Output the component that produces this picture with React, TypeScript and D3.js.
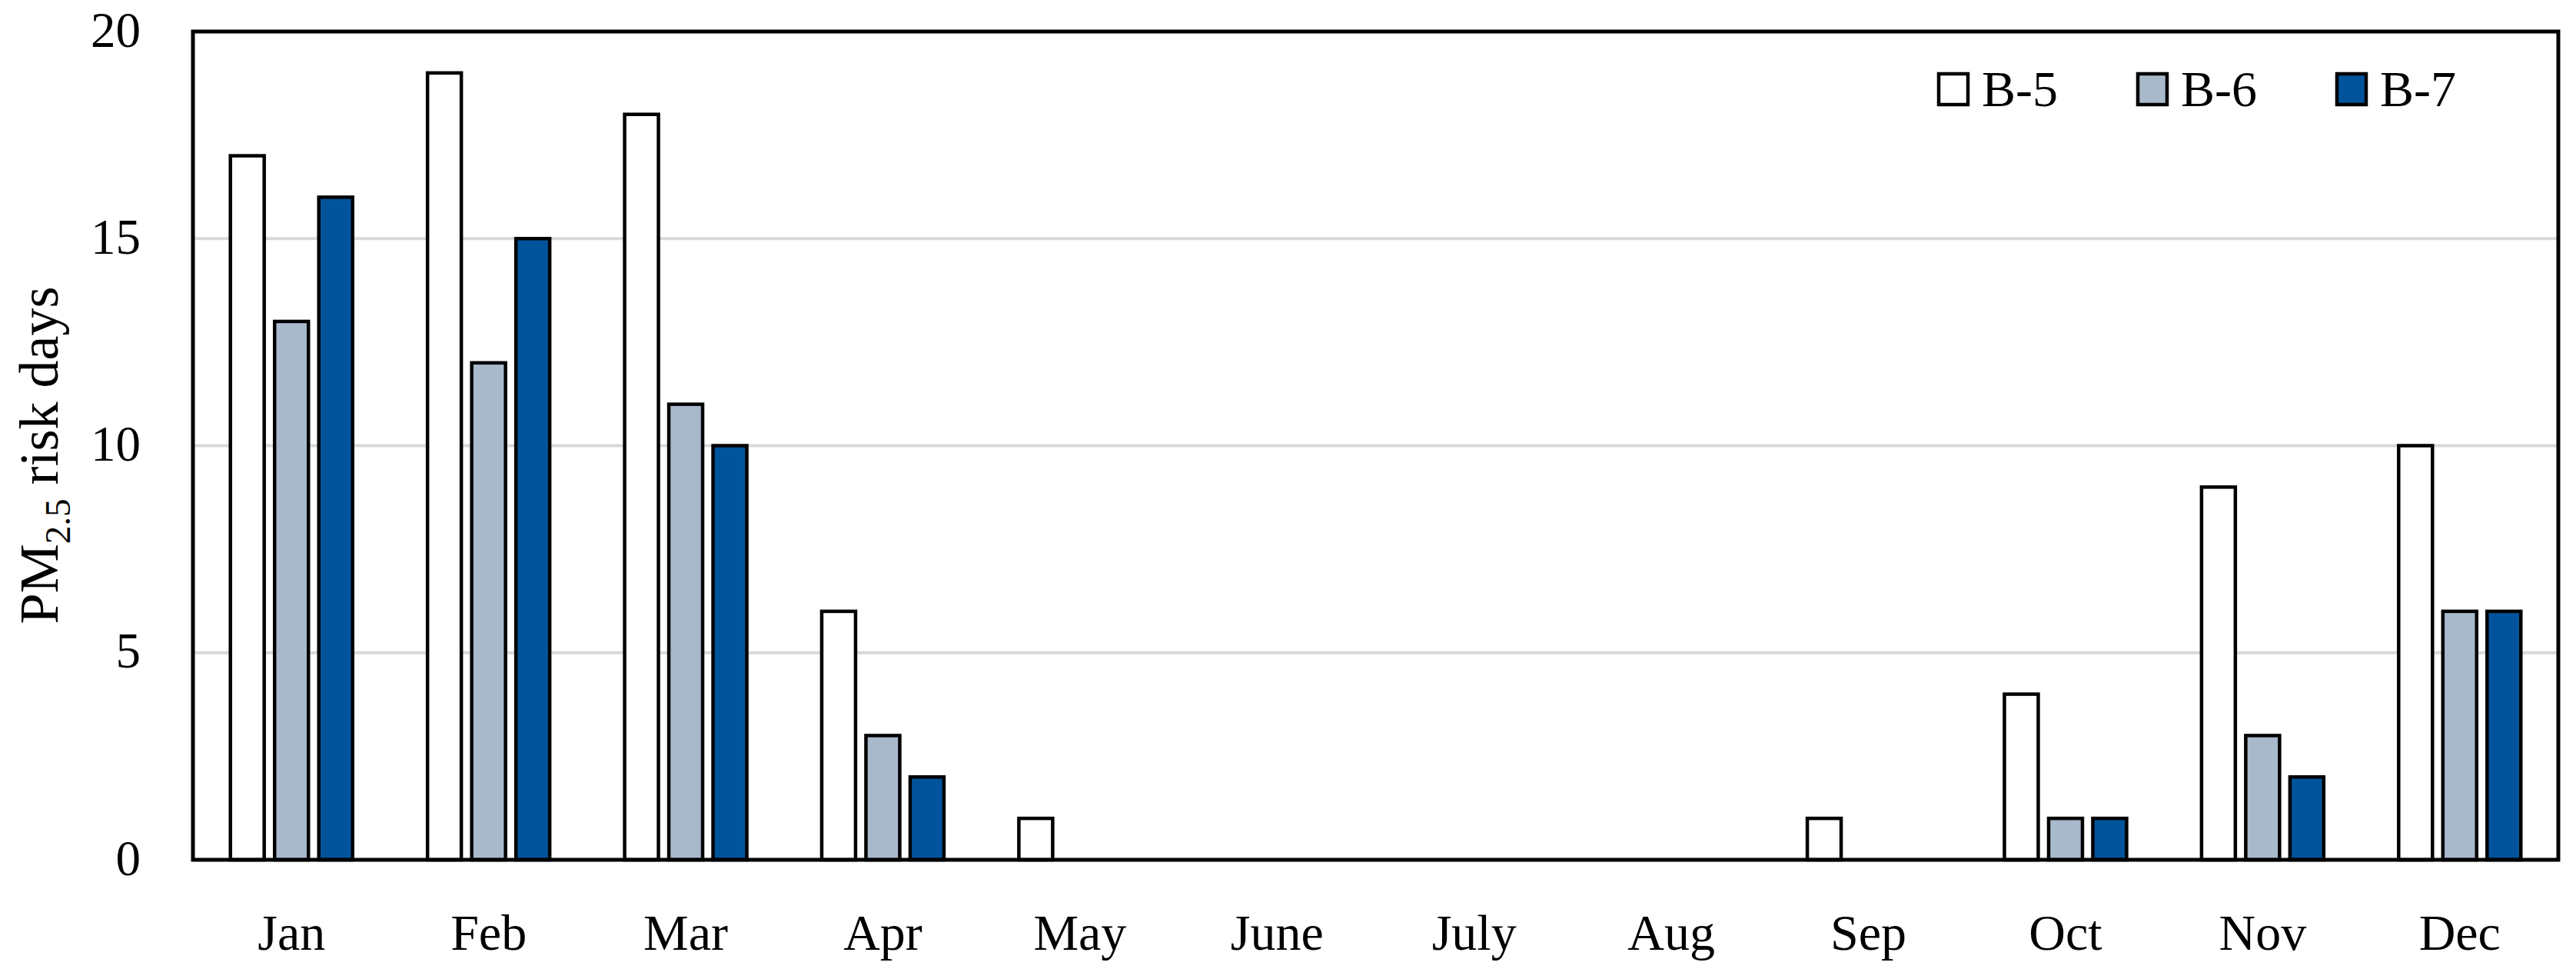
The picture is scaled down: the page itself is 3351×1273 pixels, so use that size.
import React from "react";
import * as d3 from "d3";

const months = ["Jan", "Feb", "Mar", "Apr", "May", "June", "July", "Aug", "Sep", "Oct", "Nov", "Dec"];
const seriesNames = ["B-5", "B-6", "B-7"];
const b5 = [17, 19, 18, 6, 1, 0, 0, 0, 1, 4, 9, 10];
const b6 = [13, 12, 11, 3, 0, 0, 0, 0, 0, 1, 3, 6];
const b7 = [16, 15, 10, 2, 0, 0, 0, 0, 0, 1, 2, 6];
const yTicks = [0, 5, 10, 15, 20];
const colors = ["#ffffff", "#a9b9cc", "#01549b"];

const W = 3351;
const H = 1273;
const M = { left: 251, right: 23, top: 41, bottom: 155 };
const FONT = "'Liberation Serif', 'DejaVu Serif', serif";

export default function App() {
  const values = [b5, b6, b7];
  const x = d3.scaleBand().domain(months).range([M.left, W - M.right]).paddingInner(0).paddingOuter(0);
  const band = x.bandwidth();
  const groupW = band * 0.62;
  const sub = d3.scaleBand().domain(seriesNames).range([0, groupW]).paddingInner(0.235).paddingOuter(0);
  const y = d3.scaleLinear().domain([0, 20]).range([H - M.bottom, M.top]);

  return (
    <svg width={W} height={H} style={{ position: "absolute", left: 0, top: 0, background: "#fff" }} fontFamily={FONT}>
      <rect x={0} y={0} width={W} height={H} fill="#fff" />
      {yTicks.filter((t) => t > 0 && t < 20).map((t) => (
        <line key={t} x1={M.left} x2={W - M.right} y1={y(t)} y2={y(t)} stroke="#d9d9d9" strokeWidth={4} />
      ))}
      {values.map((vals, si) =>
        vals.map((v, i) =>
          v > 0 ? (
            <rect
              key={`${si}-${i}`}
              x={(x(months[i]) as number) + (band - groupW) / 2 + (sub(seriesNames[si]) as number)}
              y={y(v)}
              width={sub.bandwidth()}
              height={y(0) - y(v)}
              fill={colors[si]}
              stroke="#000"
              strokeWidth={4.5}
            />
          ) : null
        )
      )}
      <rect x={M.left} y={M.top} width={W - M.right - M.left} height={H - M.bottom - M.top} fill="none" stroke="#000" strokeWidth={5} />
      {yTicks.map((t) => (
        <text key={t} x={183} y={y(t)} dy="0.3em" textAnchor="end" fontSize={65} fill="#000">
          {t}
        </text>
      ))}
      {months.map((m) => (
        <text key={m} x={(x(m) as number) + band / 2} y={1235} textAnchor="middle" fontSize={66} fill="#000">
          {m}
        </text>
      ))}
      <text transform={`translate(75, 592) rotate(-90)`} textAnchor="middle" fontSize={72} fill="#000">
        PM
        <tspan fontSize={47} dy={16}>2.5</tspan>
        <tspan dy={-16}> risk days</tspan>
      </text>
      {seriesNames.map((s, i) => (
        <g key={s} transform={`translate(${2522 + i * 259}, 0)`}>
          <rect x={0} y={96} width={38} height={40} fill={colors[i]} stroke="#000" strokeWidth={4.5} />
          <text x={56} y={138} fontSize={66} fill="#000">
            {s}
          </text>
        </g>
      ))}
    </svg>
  );
}
